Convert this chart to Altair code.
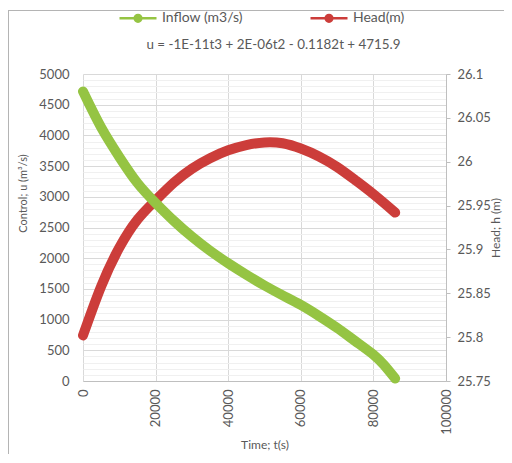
import altair as alt
import pandas as pd

# ---- data ----
t_inflow = [0, 5000, 10000, 15000, 20000, 25000, 30000, 35000, 40000, 45000,
            50000, 55000, 60000, 65000, 70000, 75000, 80000, 83000, 86000]
u_inflow = [4716, 4130, 3650, 3225, 2900, 2610, 2350, 2120, 1917, 1730,
            1555, 1395, 1240, 1060, 865, 650, 430, 255, 40]

t_head = [0, 5000, 10000, 15000, 20000, 25000, 30000, 35000, 40000, 45000,
          50000, 55000, 60000, 65000, 70000, 75000, 80000, 86000]
h_head = [25.802, 25.858, 25.902, 25.934, 25.956, 25.976, 25.992, 26.004, 26.013, 26.019,
          26.022, 26.021, 26.015, 26.006, 25.994, 25.979, 25.963, 25.942]

series_names = ["Inflow (m3/s)", "Head(m)"]
series_colors = ["#95C443", "#CC3D3A"]
x_ticks = [0, 20000, 40000, 60000, 80000, 100000]
left_ticks = list(range(0, 5001, 100))
right_ticks = [25.75, 25.8, 25.85, 25.9, 25.95, 26.0, 26.05, 26.1]
equation = "u = -1E-11t3 + 2E-06t2 - 0.1182t + 4715.9"

df_u = pd.DataFrame({"t": t_inflow, "u": u_inflow, "series": series_names[0]})
df_h = pd.DataFrame({"t": t_head, "h": h_head, "series": series_names[1]})

FONT = "Lato"
TXT = "#595959"
GRID = "#d9d9d9"
FRAME = "#b4b4b4"


def ring(r):
    return f"M{-r},0A{r},{r},0,1,1,{r},0A{r},{r},0,1,1,{-r},0Z"


# line with a dot: the dot is built from concentric stroked rings
legend_path = "M-1,0L1,0" + ring(0.04) + ring(0.11) + ring(0.18)

color = alt.Color(
    "series:N",
    scale=alt.Scale(domain=series_names, range=series_colors),
    legend=alt.Legend(
        title=None, orient="none", direction="horizontal",
        legendX=35, legendY=-76,
        symbolType=legend_path, symbolSize=1369, symbolStrokeWidth=2.5,
        labelFont=FONT, labelFontSize=14, labelColor=TXT, labelOffset=4,
        columnPadding=62,
    ),
)

xenc = alt.X(
    "t:Q",
    scale=alt.Scale(domain=[0, 100000], nice=False),
    axis=alt.Axis(
        title="Time; t(s)", values=x_ticks, labelAngle=270, format="d",
        grid=True, gridColor=GRID, ticks=False, domainColor="#bfbfbf",
        labelPadding=8, titlePadding=5, labelFlush=False, titleFontSize=12,
    ),
)

frame_top = alt.Chart(pd.DataFrame({"k": [0]})).mark_rule(
    stroke=FRAME, strokeWidth=1
).encode(x=alt.value(-75), x2=alt.value(700), y=alt.value(-63.5))

frame_left = alt.Chart(pd.DataFrame({"k": [0]})).mark_rule(
    stroke=FRAME, strokeWidth=1
).encode(x=alt.value(-74.5), y=alt.value(-64), y2=alt.value(700))

eq_text = alt.Chart(pd.DataFrame({"k": [0]})).mark_text(
    font=FONT, fontSize=13.4, color=TXT, align="center", baseline="middle"
).encode(x=alt.value(190.5), y=alt.value(-29), text=alt.value(equation))

head_line = alt.Chart(df_h).mark_line(
    strokeWidth=10, strokeCap="round", interpolate="natural"
).encode(
    x=xenc,
    y=alt.Y(
        "h:Q",
        scale=alt.Scale(domain=[25.75, 26.1], nice=False, zero=False),
        axis=alt.Axis(
            orient="right", title="Head; h (m)", values=right_ticks, format=".4~g",
            grid=False, ticks=True, tickSize=4, tickColor="#bfbfbf",
            domain=True, domainColor="#bfbfbf", labelPadding=7,
            titleAngle=270, titlePadding=12, titleFontSize=12,
        ),
    ),
    color=color,
)

inflow_line = alt.Chart(df_u).mark_line(
    strokeWidth=10, strokeCap="round", interpolate="natural"
).encode(
    x=xenc,
    y=alt.Y(
        "u:Q",
        scale=alt.Scale(domain=[0, 5000], nice=False),
        axis=alt.Axis(
            orient="left", title="Control; u (m³/s)", values=left_ticks,
            labelExpr="datum.value % 500 === 0 ? datum.label : ''",
            format="d", labelOverlap=False,
            grid=True,
            gridColor={"condition": {"test": "datum.value % 500 === 0", "value": GRID}, "value": "#f0f0f0"},
            ticks=False, tickSize=0, domain=False, labelPadding=14, titlePadding=10,
            titleFontSize=11, titleY=119,
        ),
    ),
    color=color,
)

chart = alt.layer(frame_top, frame_left, eq_text, head_line, inflow_line).resolve_scale(
    y="independent"
).properties(
    width=363, height=307,
    background="white",
    autosize=alt.AutoSizeParams(type="none"),
    padding={"left": 75, "top": 66, "right": 58, "bottom": 73},
).configure_axis(
    labelFont=FONT, labelFontSize=13, labelColor=TXT,
    titleFont=FONT, titleColor=TXT, titleFontWeight="normal",
).configure_view(stroke=None)

chart.save("out.html", embed_options={"renderer": "svg", "actions": False})
